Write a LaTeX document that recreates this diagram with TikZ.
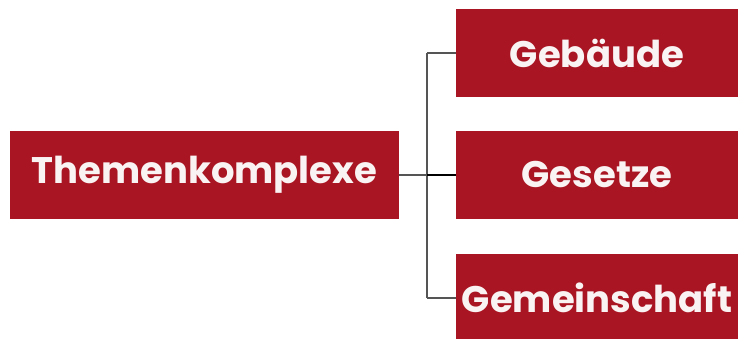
\documentclass[tikz,border=0pt]{standalone}
\usepackage{fontspec}
\setmainfont{Poppins}[BoldFont={* Bold}]
\definecolor{boxred}{HTML}{A91522}
\definecolor{linegray}{HTML}{555555}
\definecolor{textwhite}{HTML}{FAF3F3}
\tikzset{
  topic/.style={fill=boxred, text=textwhite, inner sep=0pt, minimum height=88pt,
    font=\fontsize{37}{44}\selectfont\bfseries},
  branch/.style={draw=linegray, line width=2.2pt}
}
\begin{document}
\begin{tikzpicture}[x=1pt,y=-1pt]
      \useasboundingbox (0,0) rectangle (738,338);
      \node (tk) [topic, minimum width=389pt] at (204.5,175) {Themenkomplexe};
      \node (g1) [topic, minimum width=282pt] at (597,53)  {Gebäude};
      \node (g2) [topic, minimum width=282pt] at (597,175) {Gesetze};
      \node (g3) [topic, minimum width=282pt] at (597,298) {Gemeinschaft};
      \coordinate (fork) at (427,175);

      \draw [branch] (tk.east) -- (fork);
      \draw [branch] (fork |- g1.west) -- (g1.west);
      \draw [branch] (fork |- g1.west) -- (fork |- g3.west);
      \draw [branch] (fork |- g3.west) -- (g3.west);
      \draw [branch, draw=black] (fork) -- (g2.west);
    \end{tikzpicture}
\end{document}
